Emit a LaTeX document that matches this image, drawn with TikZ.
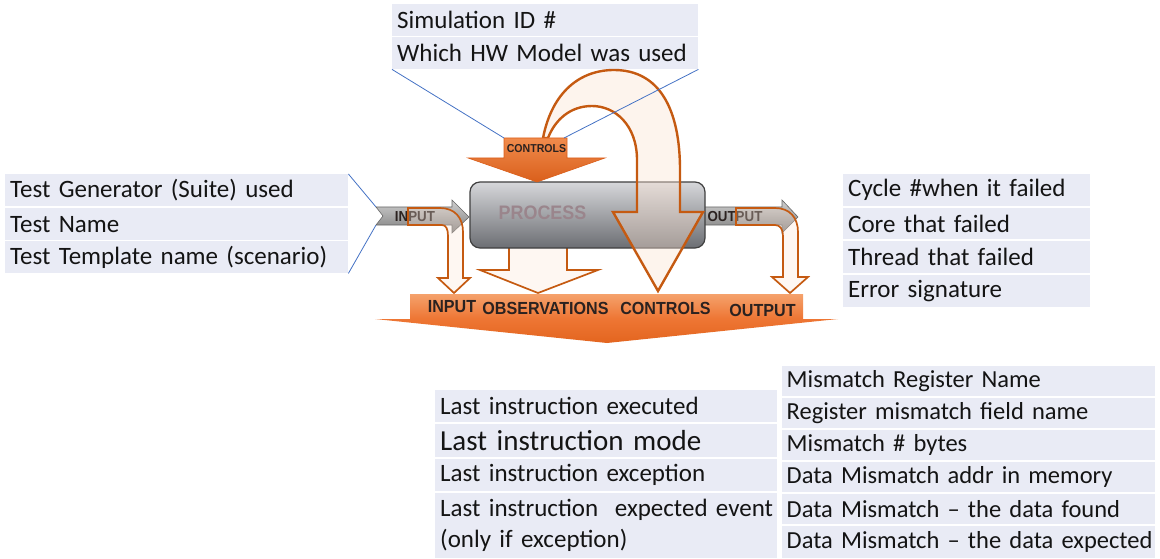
\documentclass[tikz,border=0pt]{standalone}
\usepackage{fontspec}
\setmainfont{Carlito}
\newfontfamily\arrowfont[FakeStretch=0.92]{Liberation Sans}

\definecolor{tabfill}{HTML}{E9EBF5}
\definecolor{tabtext}{HTML}{141414}
\definecolor{linkblue}{HTML}{4472C4}
\definecolor{burnt}{HTML}{C55A11}
\definecolor{paleorange}{HTML}{FBE3D3}
\definecolor{orTop}{HTML}{F5A26C}
\definecolor{orMid}{HTML}{EE7634}
\definecolor{orBot}{HTML}{E3651F}
\definecolor{ctlTop}{HTML}{F08B4C}
\definecolor{ctlBot}{HTML}{DA5F1B}
\definecolor{boxTop}{HTML}{D6D7DA}
\definecolor{boxBot}{HTML}{6C6E73}
\definecolor{grayTop}{HTML}{CFCFCF}
\definecolor{grayBot}{HTML}{7E7E7E}
\definecolor{procText}{HTML}{9A858C}
\definecolor{labelDark}{HTML}{2B2220}

\tikzset{
  tabrow/.style={fill=tabfill, anchor=north west, inner xsep=5pt, inner ysep=0pt,
    align=left, text=tabtext, font=\fontsize{25}{31}\selectfont},
  bigrow/.style={tabrow, font=\fontsize{29}{33}\selectfont},
  smallrow/.style={tabrow, inner xsep=4.5pt, font=\fontsize{24.5}{30}\selectfont},
  linkline/.style={draw=linkblue, line width=0.8pt},
  hollowarrow/.style={draw=burnt, line width=1.7pt, fill=paleorange, fill opacity=0.3, line join=miter},
  looparrow/.style={draw=burnt, line width=2.4pt, fill=paleorange, fill opacity=0.4, line join=miter},
  grayarrow/.style={draw=gray!80!black, line width=0.6pt, top color=grayTop, bottom color=grayBot},
  arrowlabel/.style={inner sep=0pt, text=labelDark, font=\arrowfont\bfseries\fontsize{17.5}{18}\selectfont},
  pipelabel/.style={inner sep=0pt, text=labelDark, font=\arrowfont\bfseries\fontsize{14.5}{15}\selectfont},
}

\begin{document}
\begin{tikzpicture}[x=1pt,y=-1pt]
\useasboundingbox (0,0) rectangle (1160,559);

% ---------- top table: simulation data ----------
\node[tabrow, text width=296pt, minimum height=32pt] (sim1) at (392,4) {Simulation ID \#};
\node[tabrow, text width=296pt, minimum height=32pt] (sim2) at (392,37) {Which HW Model was used};

% ---------- left table: test information ----------
\node[tabrow, text width=333pt, minimum height=32pt] (tst1) at (5,174) {Test Generator (Suite) used};
\node[tabrow, text width=333pt, minimum height=32pt] (tst2) at (5,208) {Test Name};
\node[tabrow, text width=333pt, minimum height=32pt] (tst3) at (5,241) {Test Template name (scenario)};

% ---------- right table: failure information ----------
\node[tabrow, text width=237pt, minimum height=32pt] (fail1) at (843,174) {Cycle \#when it failed};
\node[tabrow, text width=237pt, minimum height=31pt] (fail2) at (843,208) {Core that failed};
\node[tabrow, text width=237pt, minimum height=32pt] (fail3) at (843,241) {Thread that failed};
\node[tabrow, text width=237pt, minimum height=32pt] (fail4) at (843,275) {Error signature};

% ---------- bottom-left table: last instruction ----------
\node[tabrow, text width=332pt, minimum height=32pt] (last1) at (435,390) {Last instruction executed};
\node[bigrow, text width=332pt, minimum height=33pt] (last2) at (435,424) {Last instruction mode};
\node[tabrow, text width=332pt, minimum height=32pt] (last3) at (435,459) {Last instruction exception};
\node[tabrow, text width=332pt, minimum height=65pt] (last4) at (435,493)
  {\mbox{Last instruction\ \ expected event}\\\mbox{(only if exception)}};

% ---------- bottom-right table: mismatch details ----------
\node[smallrow, text width=364pt, minimum height=30pt] (mis1) at (782,366) {Mismatch Register Name};
\node[smallrow, text width=364pt, minimum height=30pt] (mis2) at (782,398) {Register mismatch field name};
\node[smallrow, text width=364pt, minimum height=30pt] (mis3) at (782,430) {Mismatch \# bytes};
\node[smallrow, text width=364pt, minimum height=30pt] (mis4) at (782,462) {Data Mismatch addr in memory};
\node[smallrow, text width=364pt, minimum height=30pt] (mis5) at (782,494) {\mbox{Data Mismatch -- the data found}};
\node[smallrow, text width=364pt, minimum height=32pt] (mis6) at (782,526) {\mbox{Data Mismatch -- the data expected}};

% ---------- anchor points on the process drawing ----------
\coordinate (ctlL) at (504,138);
\coordinate (ctlR) at (564,138);
\coordinate (inTop) at (376,207);
\coordinate (inBot) at (376,225);

% observations arrow (leaves the bottom of the process box)
\draw[hollowarrow] (509,246) -- (567,246) -- (567,270) -- (598,270) -- (538,293)
  -- (480,270) -- (509,270) -- cycle;

% input and output arrows
\draw[grayarrow] (376,207) -- (452,207) -- (452,200) -- (469,217) -- (452,233)
  -- (452,225) -- (376,225) -- (383,216) -- cycle;
\draw[grayarrow] (700,207) -- (782,207) -- (782,200) -- (798,217) -- (782,233)
  -- (782,225) -- (700,225) -- cycle;
\node[pipelabel] (inLabel) at (415,217) {INPUT};
\node[pipelabel] (outLabel) at (735,217) {OUTPUT};

% process box
\node[draw=black!75, line width=1.2pt, rounded corners=10pt, top color=boxTop, bottom color=boxBot,
  minimum width=235pt, minimum height=66pt, inner sep=0pt] (proc) at (587.5,215) {};
\node[inner sep=0pt, text=procText, font=\arrowfont\bfseries\fontsize{19.5}{20}\selectfont] (procLabel) at (542.5,213) {PROCESS};

% controls loop: rises from the controls arrow and comes down through the box
\draw[looparrow] (543,138) .. controls (552,92) and (580,70) .. (614,70)
  .. controls (660,70) and (680,110) .. (680,170) -- (680,212) -- (703,212)
  -- (658,291) -- (613,212) -- (637,212) -- (637,160)
  .. controls (637,125) and (615,106) .. (592,106)
  .. controls (570,106) and (555,120) .. (548,138) -- cycle;

% controls arrow into the process box
\draw[draw=ctlBot, line width=0.6pt, top color=ctlTop, bottom color=ctlBot]
  (504,138) -- (567,138) -- (567,158) -- (605,158) -- (537,182) -- (468,158) -- (504,158) -- cycle;
\node[inner sep=0pt, text=labelDark, font=\arrowfont\bfseries\fontsize{11.5}{12}\selectfont] (ctlLabel) at (536.5,149) {CONTROLS};

% input and output tapped down to the observation bar
\draw[hollowarrow] (408,208) -- (440,208) .. controls (455,208) and (463,218) .. (463,232)
  -- (463,278) -- (470,278) -- (454,293) -- (438,278) -- (448,278) -- (448,236)
  .. controls (448,229) and (446,225) .. (442,225) -- (408,225) -- cycle;
\draw[hollowarrow] (736,208) -- (775,208) .. controls (790,208) and (798,218) .. (798,232)
  -- (798,277) -- (808,277) -- (790,293) -- (772,277) -- (783,277) -- (783,236)
  .. controls (783,229) and (780,225) .. (775,225) -- (736,225) -- cycle;

% collecting bar
\shade[top color=orTop, bottom color=orBot, middle color=orMid]
  (410,294) -- (803,294) -- (803,319) -- (838,319) -- (607,343) -- (375,319) -- (410,319) -- cycle;
\node[arrowlabel] (barIn) at (452,307) {INPUT};
\node[arrowlabel] (barObs) at (545.5,308) {OBSERVATIONS};
\node[arrowlabel] (barCtl) at (665.5,308) {CONTROLS};
\node[arrowlabel] (barOut) at (762.5,310) {OUTPUT};

% links from the tables to the drawing
\draw[linkline] (sim2.south west) -- (ctlL);
\draw[linkline] (sim2.south east) -- (ctlR);
\draw[linkline] (tst1.north east) -- (inTop);
\draw[linkline] (tst3.south east) -- (inBot);
\end{tikzpicture}
\end{document}
